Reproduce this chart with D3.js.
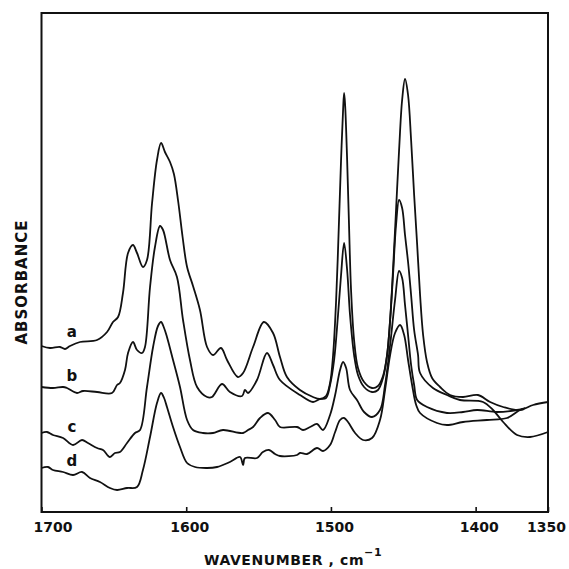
<!DOCTYPE html>
<html>
<head>
<meta charset="utf-8">
<title>IR spectra a-d</title>
<script src="https://cdn.jsdelivr.net/npm/d3@7"></script>
<style>
  body { margin: 0; background: #fff; }
  text { font-family: "DejaVu Sans", sans-serif; font-weight: bold; fill: #111; }
</style>
</head>
<body>
<script>
// spectra: [wavenumber cm-1, absorbance (arb. units)]
var curveNames = ["a", "b", "c", "d"];

var specA = [[1700,166],[1694.1,164],[1687.2,165],[1683.8,163],[1680.3,166],[1673.4,170],[1661.6,172],
  [1654.7,180],[1650.6,190],[1647.1,195],[1643.7,219],[1640.2,259],[1636.8,267],[1634.0,259],[1629.9,245],
  [1627.1,252],[1623.6,309],[1620.2,352],[1617.4,369],[1614.7,360],[1611.2,350],[1608.5,338],[1605.5,310],
  [1602.5,275],[1599.4,245],[1595.3,226],[1590.5,202],[1585.6,165],[1581.5,157],[1576.0,164],[1571.8,152],[1564.3,135],
  [1560.7,139],[1553.8,165],[1546.3,190],[1540.0,179],[1535.2,155],[1530.4,135],[1521.4,122],[1512.4,115],
  [1507.5,113],[1503.4,116],[1500.6,129],[1498.5,157],[1496.4,212],[1494.4,292],[1493.0,352],[1491.6,402],
  [1490.9,419],[1490.2,407],[1488.8,352],[1487.5,287],[1486.1,222],[1484.0,172],[1481.3,144],[1477.1,130],
  [1471.6,124],[1467.5,126],[1464.0,136],[1461.2,157],[1459.1,192],[1457.1,242],[1455.0,302],[1452.9,362],
  [1450.8,412],[1448.8,433],[1446.7,417],[1444.6,372],[1442.5,317],[1440.4,267],[1438.4,217],[1436.3,177],
  [1433.6,150],[1430.1,134],[1424.6,125],[1417.7,117],[1408.7,115],[1398.4,117],[1390.0,110],[1381.0,105],
  [1369.3,102],[1360.3,107],[1350,110]];

var specB = [[1700,125],[1692.1,124],[1685.1,125],[1682.4,124],[1675.5,119],[1671.3,121],[1661.6,120],
  [1651.3,119],[1647.8,127],[1645.8,129],[1642.3,142],[1640.2,159],[1636.8,170],[1634.0,162],[1630.5,159],
  [1628.5,165],[1625.0,225],[1621.6,265],[1618.1,286],[1616.0,282],[1611.2,252],[1606.4,235],[1602.2,192],
  [1597.4,152],[1592.5,125],[1585.6,115],[1582.2,115],[1575.3,128],[1569.8,120],[1561.4,116],[1559.4,122],
  [1557.3,119],[1551.1,132],[1544.2,159],[1540.0,147],[1535.2,132],[1521.4,117],[1512.4,110],[1507.5,113],
  [1503.4,114],[1500.6,127],[1497.8,152],[1495.1,197],[1493.0,237],[1490.9,269],[1488.8,242],[1486.8,197],
  [1484.0,157],[1481.3,137],[1477.1,125],[1471.6,120],[1467.5,122],[1464.0,134],[1461.2,157],[1459.1,192],
  [1457.1,237],[1455.0,287],[1452.9,312],[1450.8,304],[1448.8,277],[1446.7,250],[1444.6,217],[1442.5,182],
  [1439.8,157],[1438.4,139],[1429.5,124],[1419.8,117],[1410.8,112],[1394.9,110],[1388.0,102],[1381.0,90],
  [1371.4,77],[1362.4,75],[1350,80]];

var specC = [[1700,79],[1696.2,80],[1692.1,77],[1685.1,74],[1678.2,67],[1672.0,72],[1667.9,69],[1661.6,64],
  [1657.5,62],[1652.7,55],[1649.2,59],[1645.8,60],[1640.9,69],[1635.4,79],[1631.9,82],[1627.1,125],
  [1622.9,165],[1619.5,186],[1617.4,190],[1615.3,184],[1613.3,175],[1609.1,152],[1604.3,125],[1599.4,92],
  [1595.3,82],[1588.4,79],[1581.5,79],[1574.6,82],[1560.7,79],[1557.3,82],[1553.8,85],[1549.0,94],
  [1543.5,99],[1538.6,92],[1535.2,85],[1523.4,85],[1519.3,82],[1514.4,85],[1509.6,88],[1505.5,82],
  [1500.6,97],[1497.1,117],[1493.7,142],[1491.6,150],[1489.5,144],[1486.8,122],[1482.0,112],[1477.1,100],
  [1471.6,95],[1466.1,102],[1462.6,127],[1459.1,167],[1455.7,212],[1452.9,241],[1450.8,234],[1448.8,207],
  [1446.7,177],[1444.6,147],[1442.5,127],[1440.4,112],[1433.6,105],[1419.8,99],[1408.7,100],[1399.0,102],
  [1385.2,100],[1371.4,102],[1365.8,104]];

var specD = [[1700,44],[1695.5,45],[1692.1,42],[1685.1,40],[1678.2,37],[1672.0,40],[1666.5,34],[1659.6,30],
  [1652.7,24],[1647.8,22],[1640.9,24],[1634.0,25],[1629.9,42],[1625.0,75],[1620.2,109],[1617.4,119],
  [1615.3,114],[1613.3,105],[1609.1,85],[1604.3,65],[1599.4,49],[1593.9,45],[1585.6,44],[1578.7,45],
  [1569.8,50],[1562.8,55],[1560.7,47],[1559.4,54],[1551.1,54],[1547.0,60],[1542.8,62],[1538.6,58],
  [1535.2,56],[1523.4,57],[1521.4,59],[1516.5,58],[1509.6,64],[1505.5,61],[1500.6,67],[1497.1,80],
  [1493.7,92],[1490.9,94],[1488.2,90],[1483.3,79],[1477.8,72],[1471.6,74],[1466.1,92],[1462.6,122],
  [1459.1,157],[1455.7,179],[1452.2,187],[1449.4,177],[1446.7,152],[1443.9,127],[1441.1,107],[1438.4,99],
  [1426.7,89],[1419.8,87],[1408.7,90],[1392.2,92],[1378.3,94],[1369.3,102],[1366.5,103]];

var xTicks = [1700, 1600, 1500, 1400, 1350];
var xTitle = "WAVENUMBER , cm",
    xTitleSup = "\u22121",
    yTitle = "ABSORBANCE";

var spectra = [specA, specB, specC, specD];

var w = 569, h = 569,
    mLeft = 41.5, mRight = 548, mTop = 13, mBottom = 512;

var svg = d3.select("body").append("svg")
    .attr("width", w)
    .attr("height", h);

var x = d3.scaleLinear().domain([1700, 1350]).range([mLeft, mRight]);
var y = d3.scaleLinear().domain([0, 500]).range([mBottom, mBottom - 500]);

var line = d3.line()
    .x(function(d) { return x(d[0]); })
    .y(function(d) { return y(d[1]); })
    .curve(d3.curveCatmullRom.alpha(0.5));

// the traces
svg.selectAll("path.spec")
    .data(spectra)
  .enter().append("path")
    .attr("class", "spec")
    .attr("d", line)
    .attr("fill", "none")
    .attr("stroke", "#111")
    .attr("stroke-width", 1.8)
    .attr("stroke-linejoin", "round");

// curve letters sit just above where each trace starts
var labelDy = [-9, -6, -1, -2];
svg.selectAll("text.name")
    .data(curveNames)
  .enter().append("text")
    .attr("class", "name")
    .attr("x", x(1679))
    .attr("y", function(d, i) { return y(spectra[i][0][1]) + labelDy[i]; })
    .attr("text-anchor", "middle")
    .style("font-size", "15px")
    .text(function(d) { return d; });

// frame
svg.append("rect")
    .attr("x", mLeft).attr("y", mTop)
    .attr("width", mRight - mLeft).attr("height", mBottom - mTop)
    .attr("fill", "none")
    .attr("stroke", "#111")
    .attr("stroke-width", 2);

// bottom axis, ticks point inwards
var xAxis = d3.axisBottom(x)
    .tickValues(xTicks)
    .tickSize(-5)
    .tickPadding(10)
    .tickFormat(d3.format("d"));

var gx = svg.append("g")
    .attr("transform", "translate(0," + mBottom + ")")
    .call(xAxis);
gx.select(".domain").remove();
gx.selectAll(".tick line").attr("stroke", "#111").attr("stroke-width", 1.6);
gx.selectAll(".tick text")
    .attr("dx", function(d) { return d === 1700 ? 11 : (d === 1350 ? -2 : 3); })
    .attr("fill", "#111")
    .style("font-family", "'DejaVu Sans', sans-serif")
    .style("font-weight", "bold")
    .style("font-size", "14px");

var xt = svg.append("text")
    .attr("x", 204)
    .attr("y", 565)
    .style("font-size", "14px")
    .style("letter-spacing", "0.6px")
    .text(xTitle);
xt.append("tspan")
    .attr("dy", -9)
    .style("font-size", "11px")
    .text(xTitleSup);

svg.append("text")
    .attr("transform", "translate(27,282) rotate(-90)")
    .attr("text-anchor", "middle")
    .style("font-size", "15px")
    .style("letter-spacing", "1px")
    .text(yTitle);
</script>
</body>
</html>
